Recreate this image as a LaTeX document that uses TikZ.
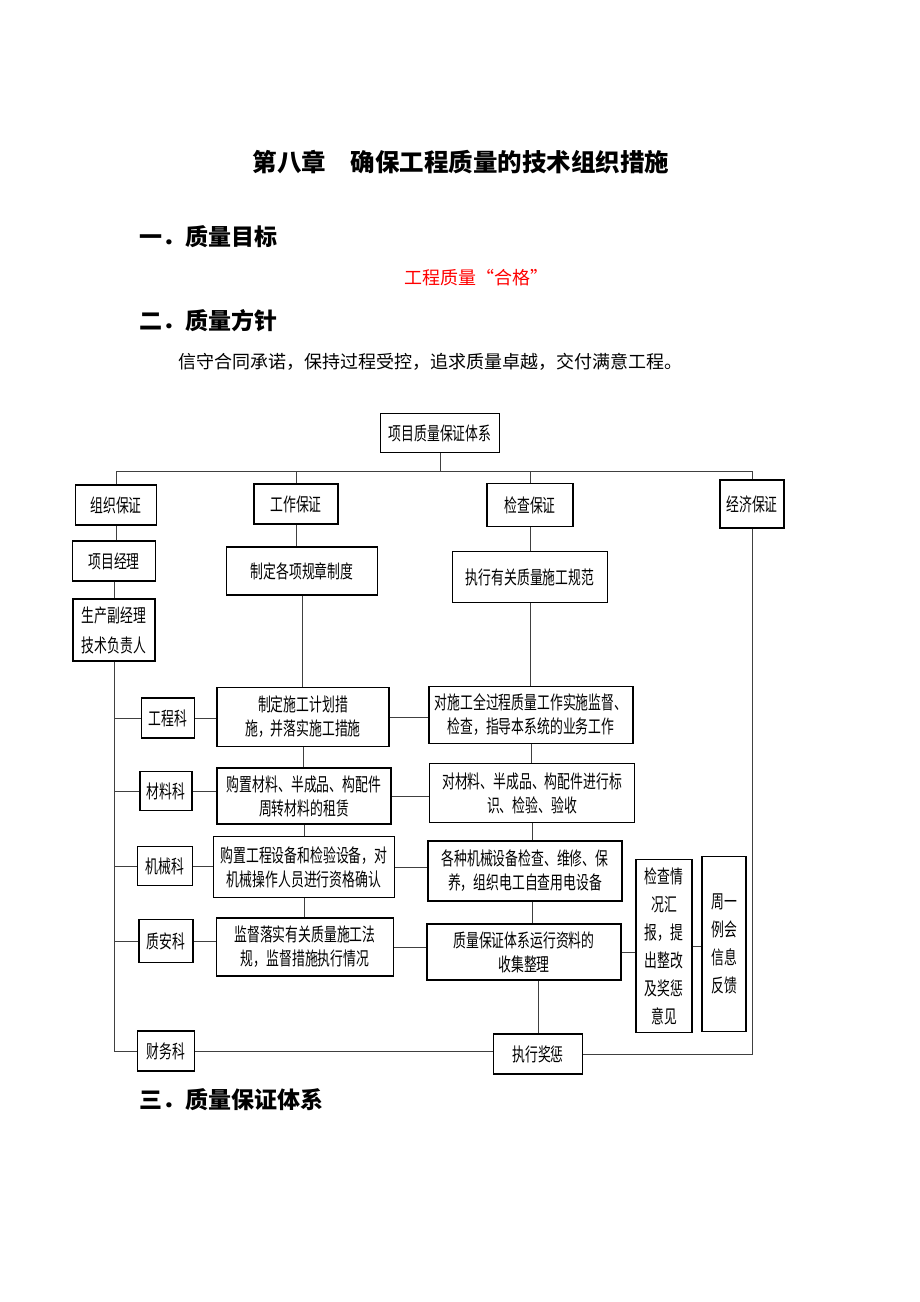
\documentclass[tikz,border=0pt]{standalone}
\usepackage{fontspec}
\usepackage{tikz}
\newfontfamily\cjk{Noto Sans CJK SC}
\newfontfamily\cjkbox[FakeStretch=0.69]{Noto Sans CJK SC}

\begin{document}
\begin{tikzpicture}[x=1pt,y=-1pt,
    box/.style={draw,line width=1.5pt,inner sep=0pt,align=center,font=\cjkbox\fontsize{18.6}{24}\selectfont},
    tallbox/.style={box,font=\cjkbox\fontsize{18.6}{28}\selectfont},
    link/.style={line width=0.9pt,color=black!75},
    head/.style={anchor=west,inner sep=0pt,font=\cjk\bfseries\fontsize{23}{23}\selectfont},
    plain/.style={inner sep=0pt,font=\cjk\fontsize{18}{18}\selectfont}]
        \useasboundingbox (0,0) rectangle (920,1302);

        % title and text
        \node[inner sep=0pt,font=\cjk\bfseries\fontsize{24.5}{25}\selectfont] (title) at (461,162) {第八章\hspace{1em}确保工程质量的技术组织措施};
        \node[head] (mubiao) at (139,237) {一．质量目标};
        \node[plain,text=red] (hege) at (476,278) {工程质量“合格”};
        \node[head] (fangzhen) at (139,321) {二．质量方针};
        \node[plain,anchor=west] (zhenyan) at (178,362) {信守合同承诺，保持过程受控，追求质量卓越，交付满意工程。};
        \node[head] (tixihead) at (139,1100) {三．质量保证体系};

        % top
        \node[box,minimum width=119,minimum height=39] (tixi) at (440,433) {项目质量保证体系};

        % four guarantees
        \node[box,minimum width=81,minimum height=40] (zuzhi) at (116,505) {组织保证};
        \node[box,minimum width=84,minimum height=40] (gongzuo) at (296,504) {工作保证};
        \node[box,minimum width=86,minimum height=43] (jiancha) at (530,505) {检查保证};
        \node[box,minimum width=64,minimum height=48] (jingji) at (752,504) {经济保证};

        % second row
        \node[box,minimum width=83,minimum height=40] (jingli) at (114,561) {项目经理};
        \node[box,minimum width=82,minimum height=62,font=\cjkbox\fontsize{18.6}{30}\selectfont] (fujingli) at (114,630) {生产副经理\\技术负责人};
        \node[box,minimum width=151,minimum height=48] (guizhang) at (302,571) {制定各项规章制度};
        \node[box,minimum width=155,minimum height=51] (guifan) at (530,577) {执行有关质量施工规范};

        % departments
        \node[box,minimum width=53,minimum height=40] (gongchengke) at (168,718) {工程科};
        \node[box,minimum width=52,minimum height=39] (cailiaoke) at (166,791) {材料科};
        \node[box,minimum width=55,minimum height=39] (jixieke) at (165,866) {机械科};
        \node[box,minimum width=54,minimum height=43] (zhianke) at (166,941) {质安科};
        \node[box,minimum width=57,minimum height=40] (caiwuke) at (166,1051) {财务科};

        % work column
        \node[box,minimum width=172,minimum height=59] (jihua) at (303,717) {制定施工计划措\\施，并落实施工措施};
        \node[box,minimum width=174,minimum height=56] (goucai) at (304,796) {购置材料、半成品、构配件\\周转材料的租赁};
        \node[box,minimum width=181,minimum height=61] (goushebei) at (304,867) {购置工程设备和检验设备，对\\机械操作人员进行资格确认};
        \node[box,minimum width=177,minimum height=58] (jiandu) at (305,947) {监督落实有关质量施工法\\规，监督措施执行情况};

        % check column
        \node[box,minimum width=204,minimum height=57] (guocheng) at (531,715) {对施工全过程质量工作实施监督、\\检查，指导本系统的业务工作};
        \node[box,minimum width=205,minimum height=59] (biaoshi) at (532,793) {对材料、半成品、构配件进行标\\识、检验、验收};
        \node[box,minimum width=194,minimum height=60] (jianxiu) at (525,871) {各种机械设备检查、维修、保\\养，组织电工自查用电设备};
        \node[box,minimum width=194,minimum height=56] (ziliao) at (524,952) {质量保证体系运行资料的\\收集整理};
        \node[box,minimum width=89,minimum height=40] (jiangcheng) at (538,1054) {执行奖惩};

        % reports
        \node[tallbox,minimum width=56,minimum height=173] (huibao) at (664,946) {检查情\\况汇\\报，提\\出整改\\及奖惩\\意见};
        \node[tallbox,minimum width=44,minimum height=175] (lihui) at (724,944) {周一\\例会\\信息\\反馈};

        % bus
        \coordinate (bus) at (0,471);
        \draw[link] (tixi.south) -- (tixi.south |- bus);
        \draw[link] (zuzhi.north) -- (zuzhi.north |- bus) -- (jingji.north |- bus) -- (jingji.north);
        \draw[link] (gongzuo.north) -- (gongzuo.north |- bus);
        \draw[link] (jiancha.north) -- (jiancha.north |- bus);

        % organisation line
        \draw[link] (zuzhi.south) -- (zuzhi.south |- jingli.north);
        \draw[link] (jingli.south) -- (jingli.south |- fujingli.north);
        \draw[link] (fujingli.south) |- (caiwuke.west);
        \draw[link] (gongchengke.west) -- (gongchengke.west -| fujingli.south);
        \draw[link] (cailiaoke.west) -- (cailiaoke.west -| fujingli.south);
        \draw[link] (jixieke.west) -- (jixieke.west -| fujingli.south);
        \draw[link] (zhianke.west) -- (zhianke.west -| fujingli.south);

        % work line
        \draw[link] (gongzuo.south) -- (gongzuo.south |- guizhang.north);
        \draw[link] (guizhang.south) -- (guizhang.south |- jihua.north);
        \draw[link] (jihua.south) -- (jihua.south |- goucai.north);
        \draw[link] (goucai.south) -- (goucai.south |- goushebei.north);
        \draw[link] (goushebei.south) -- (goushebei.south |- jiandu.north);

        % check line
        \draw[link] (jiancha.south) -- (jiancha.south |- guifan.north);
        \draw[link] (guifan.south) -- (guifan.south |- guocheng.north);
        \draw[link] (guocheng.south) -- (guocheng.south |- biaoshi.north);
        \draw[link] (biaoshi.south) -- (biaoshi.south |- jianxiu.north);
        \draw[link] (jianxiu.south -| biaoshi.south) -- (ziliao.north -| biaoshi.south);
        \draw[link] (ziliao.south -| jiangcheng.north) -- (jiangcheng.north);

        % rows
        \draw[link] (gongchengke.east) -- (gongchengke.east -| jihua.west);
        \draw[link] (cailiaoke.east) -- (cailiaoke.east -| goucai.west);
        \draw[link] (jixieke.east) -- (jixieke.east -| goushebei.west);
        \draw[link] (zhianke.east) -- (zhianke.east -| jiandu.west);
        \draw[link] (jihua.east) -- (jihua.east -| guocheng.west);
        \draw[link] (goucai.east) -- (goucai.east -| biaoshi.west);
        \draw[link] (goushebei.east) -- (goushebei.east -| jianxiu.west);
        \draw[link] (jiandu.east) -- (jiandu.east -| ziliao.west);
        \draw[link] (caiwuke.east) -- (caiwuke.east -| jiangcheng.west);

        % economy and reports
        \draw[link] (jingji.south) |- (jiangcheng.east);
        \draw[link] (ziliao.east) -- (ziliao.east -| huibao.west);
        \draw[link] (huibao.east) -- (huibao.east -| lihui.west);
    \end{tikzpicture}
\end{document}
